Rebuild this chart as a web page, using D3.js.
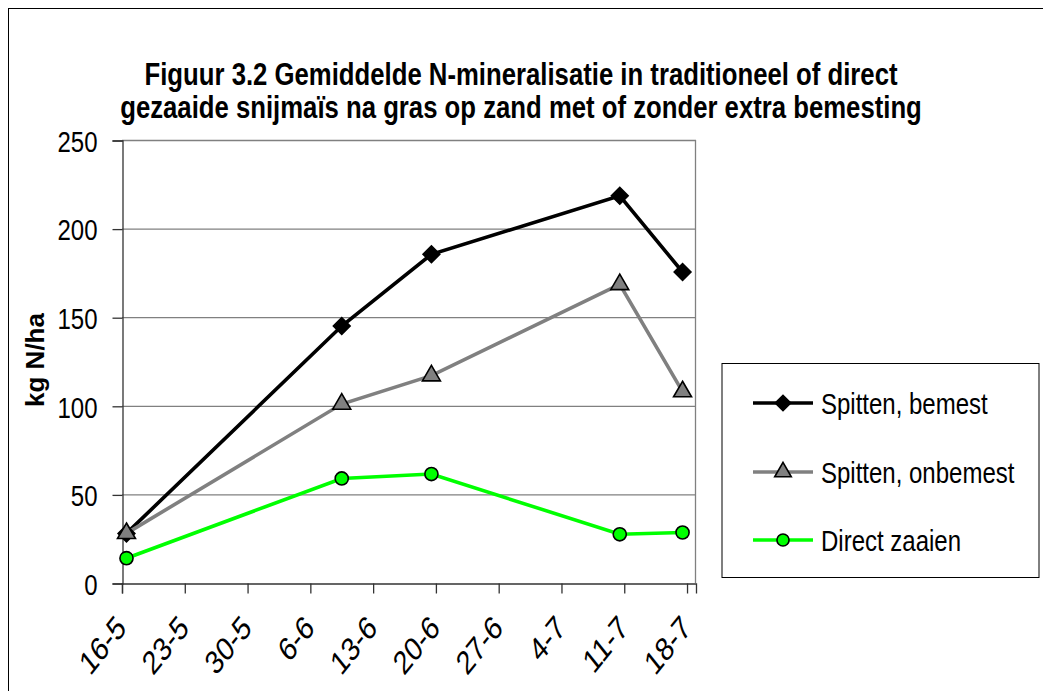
<!DOCTYPE html>
<html>
<head>
<meta charset="utf-8">
<script src="https://cdn.jsdelivr.net/npm/d3@7"></script>
<style>
  body { margin: 0; background: #fff; }
  svg text { font-family: "Liberation Sans", Arial, sans-serif; }
</style>
</head>
<body>
<div id="vis-container"></div>
<script>
// sampling dates (day-month), year is just a placeholder
var dates = ["16-5", "9-6", "19-6", "10-7", "17-7"];
var bemest = [28, 145, 185.5, 218.5, 175.5];
var onbemest = [28, 101, 117, 168.5, 108];
var direct = [14, 59, 61.5, 27.5, 28.5];
var seriesNames = ["Spitten, bemest", "Spitten, onbemest", "Direct zaaien"];
var yTicks = [0, 50, 100, 150, 200, 250];
var xTickLabels = ["16-5", "23-5", "30-5", "6-6", "13-6", "20-6", "27-6", "4-7", "11-7", "18-7"];

var W = 1043, H = 691;
var SX = 0.8; // the original fonts are narrow
var parse = function (s) {
  var p = s.split("-");
  return new Date(Date.UTC(2003, +p[1] - 1, +p[0]));
};
var halfDay = 12 * 3600 * 1000;

var svg = d3.select("#vis-container").append("svg")
  .attr("width", W).attr("height", H);

// outer chart border (only left & top visible in the picture)
svg.append("rect")
  .attr("x", 8.5).attr("y", 8.5)
  .attr("width", W + 20).attr("height", H + 20)
  .attr("fill", "none").attr("stroke", "#000").attr("stroke-width", 1);

var x = d3.scaleUtc()
  .domain([parse("16-5"), parse("19-7")])
  .range([122, 696]);
var y = d3.scaleLinear().domain([0, 250]).range([583, 140]);

// gridlines
svg.append("g").selectAll("line")
  .data(yTicks.filter(function (d) { return d > 0; }))
  .enter().append("line")
  .attr("x1", x.range()[0]).attr("x2", x.range()[1])
  .attr("y1", function (d) { return y(d) + 0.5; })
  .attr("y2", function (d) { return y(d) + 0.5; })
  .attr("stroke", "#808080").attr("stroke-width", 1.3);

// right plot border
svg.append("line")
  .attr("x1", x.range()[1] - 0.5).attr("x2", x.range()[1] - 0.5)
  .attr("y1", y(250)).attr("y2", y(0))
  .attr("stroke", "#808080").attr("stroke-width", 1.3);

// y axis
var yAxis = d3.axisLeft(y).tickValues(yTicks).tickSize(10);
var gy = svg.append("g").attr("transform", "translate(" + (x.range()[0] + 0.5) + ",0.5)").call(yAxis);
gy.select(".domain").attr("stroke", "#333").attr("stroke-width", 1.3);
gy.selectAll(".tick line").attr("stroke", "#333").attr("stroke-width", 1.3);
gy.selectAll("text").attr("font-size", 30).attr("fill", "#000")
  .attr("x", 0).attr("dy", "0.36em")
  .attr("transform", "translate(-25,0) scale(" + SX + ",1)");

// x axis
var xTickDates = xTickLabels.map(parse);
var xAxis = d3.axisBottom(x).tickValues(xTickDates)
  .tickSize(10).tickFormat(function (d, i) { return xTickLabels[i]; });
var gx = svg.append("g").attr("transform", "translate(0," + (y(0) + 0.5) + ")").call(xAxis);
gx.select(".domain").attr("stroke", "#333").attr("stroke-width", 1.3);
gx.selectAll(".tick line").attr("stroke", "#333").attr("stroke-width", 1.3);
gx.selectAll("text")
  .attr("font-size", 33).attr("fill", "#000")
  .attr("text-anchor", "end")
  .attr("y", 0).attr("dy", "0.7em")
  .attr("transform", "translate(-8,30) scale(0.8,1) rotate(-45)");

// y axis title
svg.append("text")
  .attr("transform", "translate(44,360) rotate(-90)")
  .attr("text-anchor", "middle")
  .attr("font-size", 26).attr("font-weight", "bold")
  .text("kg N/ha");

// chart title
var title = ["Figuur 3.2 Gemiddelde N-mineralisatie in traditioneel of direct",
  "gezaaide snijmaïs na gras op zand met of zonder extra bemesting"];
svg.append("g").selectAll("text").data(title).enter().append("text")
  .attr("transform", function (d, i) { return "translate(521," + (85 + i * 33) + ") scale(0.83,1)"; })
  .attr("text-anchor", "middle")
  .attr("font-size", 31).attr("font-weight", "bold")
  .text(function (d) { return d; });

var series = [
  { name: seriesNames[0], values: bemest, color: "#000000", marker: d3.symbolSquare, rot: 45, fill: "#000", size: 140 },
  { name: seriesNames[1], values: onbemest, color: "#808080", marker: d3.symbolTriangle, rot: 0, fill: "#808080", size: 140 },
  { name: seriesNames[2], values: direct, color: "#00ff00", marker: d3.symbolCircle, rot: 0, fill: "#00ff00", size: 135 }
];

var line = d3.line()
  .x(function (d) { return x(new Date(parse(d.date).getTime() + halfDay)); })
  .y(function (d) { return y(d.value); });

series.forEach(function (s) {
  var pts = dates.map(function (dt, i) { return { date: dt, value: s.values[i] }; });
  svg.append("path").datum(pts)
    .attr("d", line)
    .attr("fill", "none").attr("stroke", s.color).attr("stroke-width", 3.6);
});

series.forEach(function (s) {
  var pts = dates.map(function (dt, i) { return { date: dt, value: s.values[i] }; });
  svg.append("g").selectAll("path").data(pts).enter().append("path")
    .attr("d", d3.symbol().type(s.marker).size(s.size))
    .attr("transform", function (d) {
      return "translate(" + x(new Date(parse(d.date).getTime() + halfDay)) + "," + y(d.value) + ") rotate(" + s.rot + ")";
    })
    .attr("fill", s.fill).attr("stroke", "#000").attr("stroke-width", 1.6);
});

// legend
var legend = svg.append("g");
legend.append("rect")
  .attr("x", 722).attr("y", 363.5).attr("width", 317).attr("height", 214)
  .attr("fill", "#fff").attr("stroke", "#000").attr("stroke-width", 1);

var items = legend.selectAll("g.item").data(series).enter().append("g")
  .attr("class", "item")
  .attr("transform", function (d, i) { return "translate(0," + [403, 472, 540][i] + ")"; });
items.append("line")
  .attr("x1", 753).attr("x2", 813).attr("y1", 0).attr("y2", 0)
  .attr("stroke", function (d) { return d.color; }).attr("stroke-width", 3.6);
items.append("path")
  .attr("d", function (d) { return d3.symbol().type(d.marker).size(d.size * 0.85)(); })
  .attr("transform", function (d) { return "translate(783,0) rotate(" + d.rot + ")"; })
  .attr("fill", function (d) { return d.fill; })
  .attr("stroke", "#000").attr("stroke-width", 1.6);
items.append("text")
  .attr("transform", "translate(821,0) scale(" + SX + ",1)")
  .attr("dy", "0.35em")
  .attr("font-size", 30)
  .text(function (d) { return d.name; });
</script>
</body>
</html>
